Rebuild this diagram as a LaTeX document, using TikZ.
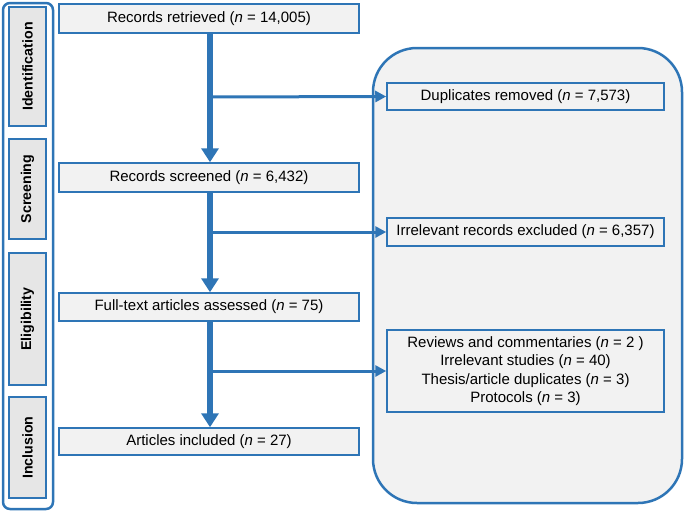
\documentclass[tikz,border=0pt]{standalone}
\usepackage{fontspec}
\setmainfont{Liberation Sans}
\usetikzlibrary{arrows.meta}
\definecolor{pblue}{RGB}{46,117,182}
\definecolor{boxfill}{RGB}{242,242,242}
\definecolor{phasefill}{RGB}{230,230,230}
\tikzset{
  mainbox/.style={draw=pblue, line width=1.5pt, fill=boxfill, inner sep=0pt, font=\fontsize{15}{18}\selectfont},
  phasebox/.style={draw=pblue, line width=1.5pt, fill=phasefill, inner sep=0pt},
  phaselabel/.style={rotate=90, font=\bfseries\fontsize{14.2}{17}\selectfont},
  vflow/.style={draw=pblue, line width=5.5pt, -{Triangle[width=17pt,length=14pt]}},
  hflow/.style={draw=pblue, line width=3pt, -{Triangle[width=11pt,length=11pt]}},
}
\begin{document}
\begin{tikzpicture}[x=1pt,y=-1pt]
\useasboundingbox (0,0) rectangle (685,512);
% left phase frame
\draw[pblue, line width=2.5pt, fill=white, rounded corners=7pt] (3,3) rectangle (53,509);
\node[phasebox, minimum width=37pt, minimum height=119pt] (p1) at (27.5,66.5) {};
\node[phaselabel] (l1) at (p1) {Identification};
\node[phasebox, minimum width=37pt, minimum height=100pt] (p2) at (27.5,189) {};
\node[phaselabel] (l2) at (p2) {Screening};
\node[phasebox, minimum width=37pt, minimum height=132pt] (p3) at (27.5,319) {};
\node[phaselabel] (l3) at (p3) {Eligibility};
\node[phasebox, minimum width=37pt, minimum height=101pt] (p4) at (27.5,447.5) {};
\node[phaselabel] (l4) at (p4) {Inclusion};
% right frame
\draw[pblue, line width=2.5pt, fill=boxfill, rounded corners=44pt] (373,48) rectangle (682,503);
% main boxes
\node[mainbox, minimum width=300pt, minimum height=29pt] (b1) at (209,18.5) {Records retrieved (\textit{n} = 14,005)};
\node[mainbox, minimum width=300pt, minimum height=29pt] (b2) at (209,177.5) {Records screened (\textit{n} = 6,432)};
\node[mainbox, minimum width=300pt, minimum height=28pt] (b3) at (209,307) {Full-text articles assessed (\textit{n} = 75)};
\node[mainbox, minimum width=300pt, minimum height=27pt] (b4) at (209,441.5) {Articles included (\textit{n} = 27)};
% side boxes
\node[mainbox, minimum width=277pt, minimum height=27pt] (s1) at (525.5,96.5) {Duplicates removed (\textit{n} = 7,573)};
\node[mainbox, minimum width=277pt, minimum height=28pt] (s2) at (525.5,232) {Irrelevant records excluded (\textit{n} = 6,357)};
\node[mainbox, minimum width=277pt, minimum height=82pt, align=center, font=\fontsize{15}{18.5}\selectfont] (s3) at (525.5,371) {Reviews and commentaries (\textit{n} = 2 )\\Irrelevant studies (\textit{n} = 40)\\Thesis/article duplicates (\textit{n} = 3)\\Protocols (\textit{n} = 3)};
% connectors
\coordinate (j1) at (210,97);
\coordinate (j2) at (210,232);
\coordinate (j3) at (210,371);
\draw[vflow] (b1.south -| j1) -- (b2.north -| j1);
\draw[vflow] (b2.south -| j2) -- (b3.north -| j2);
\draw[vflow] (b3.south -| j3) -- (b4.north -| j3);
\draw[hflow] ([xshift=-1.5pt]j1) -- (s1.west);
\draw[hflow] ([xshift=-1.5pt]j2) -- (s2.west);
\draw[hflow] ([xshift=-1.5pt]j3) -- (s3.west);
\end{tikzpicture}
\end{document}
